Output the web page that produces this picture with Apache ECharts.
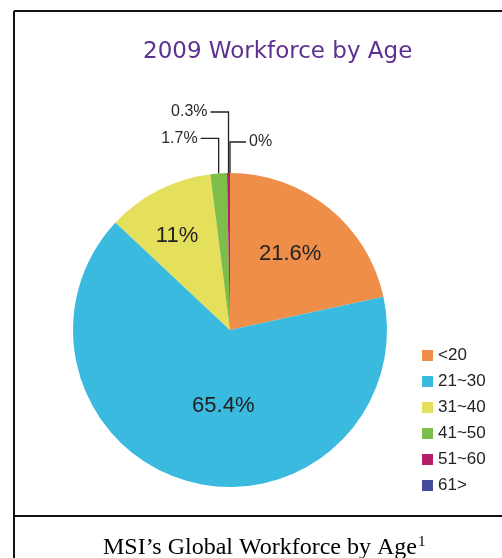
<!DOCTYPE html>
<html>
<head>
<meta charset="utf-8">
<script src="https://cdn.jsdelivr.net/npm/echarts@6/dist/echarts.min.js"></script>
<style>
  html, body { margin: 0; padding: 0; background: #fff; }
  #main { width: 502px; height: 558px; }
</style>
</head>
<body>
<div id="main"></div>
<script>
// data
var ageGroups = ['<20', '21~30', '31~40', '41~50', '51~60', '61>'];
var shares = [21.6, 65.4, 11, 1.7, 0.3, 0];
var sliceColors = ['#ee8e49', '#3abadf', '#e5e05b', '#7dbd49', '#b51f69', '#464a9c'];

// small slices get a label outside with a bent leader line
// rise = how far up from the pie edge, run = horizontal part (neg = left)
var outsideLabels = {
  3: { rise: 35, run: -18 },
  4: { rise: 61, run: -18 },
  5: { rise: 31, run: 16 }
};
// little nudges of the inside labels
var insideOffset = {
  0: [9, -13],
  1: [15, -3],
  2: [-16, -21]
};

var chart = echarts.init(document.getElementById('main'));

var pieData = [];
for (var i = 0; i < ageGroups.length; i++) {
  var item = {
    name: ageGroups[i],
    value: shares[i],
    itemStyle: { color: sliceColors[i] }
  };
  if (outsideLabels[i]) {
    item.label = { position: 'outside', fontSize: 16, color: '#2a2a2a' };
    item.labelLine = { show: true };
  } else {
    item.label = { position: 'inside', fontSize: 22, color: '#222', offset: insideOffset[i] };
    item.labelLine = { show: false };
  }
  pieData.push(item);
}

var option = {
  animation: false,
  backgroundColor: '#fff',
  title: [{
    text: '2009 Workforce by Age',
    left: 138,
    top: 36,
    textStyle: {
      fontFamily: 'DejaVu Sans',
      fontSize: 23,
      fontWeight: 'normal',
      color: '#5d3190'
    }
  }, {
    text: 'MSI\u2019s Global Workforce by Age{sup|1}',
    left: 98,
    top: 530,
    textStyle: {
      fontFamily: 'Liberation Serif',
      fontSize: 24,
      fontWeight: 'normal',
      color: '#000',
      rich: {
        sup: { fontFamily: 'Liberation Serif', fontSize: 15, color: '#000', verticalAlign: 'top', padding: [0, 0, 10, 1] }
      }
    }
  }],
  legend: {
    orient: 'vertical',
    left: 417,
    top: 342,
    itemWidth: 11,
    itemHeight: 11,
    itemGap: 9,
    icon: 'rect',
    selectedMode: false,
    data: ageGroups,
    textStyle: {
      fontFamily: 'Liberation Sans',
      fontSize: 17,
      lineHeight: 16,
      color: '#222'
    }
  },
  graphic: [
    { type: 'line', shape: { x1: 14, y1: 11, x2: 502, y2: 11 }, style: { stroke: '#111', lineWidth: 2 } },
    { type: 'line', shape: { x1: 14, y1: 11, x2: 14, y2: 558 }, style: { stroke: '#111', lineWidth: 2 } },
    { type: 'line', shape: { x1: 14, y1: 516, x2: 502, y2: 516 }, style: { stroke: '#111', lineWidth: 2 } }
  ],
  series: [{
    type: 'pie',
    center: [230, 330],
    radius: 157,
    startAngle: 90,
    clockwise: true,
    avoidLabelOverlap: false,
    silent: true,
    label: {
      fontFamily: 'Liberation Sans',
      formatter: '{c}%'
    },
    labelLine: {
      lineStyle: { color: '#222', width: 1.3 }
    },
    labelLayout: function (p) {
      var cfg = outsideLabels[p.dataIndex];
      if (!cfg || !p.labelLinePoints) return {};
      var e = p.labelLinePoints[0];
      var y = e[1] - cfg.rise;
      var x = e[0] + cfg.run;
      return {
        x: x + (cfg.run < 0 ? -3 : 3),
        y: y,
        align: cfg.run < 0 ? 'right' : 'left',
        verticalAlign: 'middle',
        labelLinePoints: [[e[0], e[1]], [e[0], y], [x, y]]
      };
    },
    data: pieData
  }]
};

chart.setOption(option);
</script>
</body>
</html>
